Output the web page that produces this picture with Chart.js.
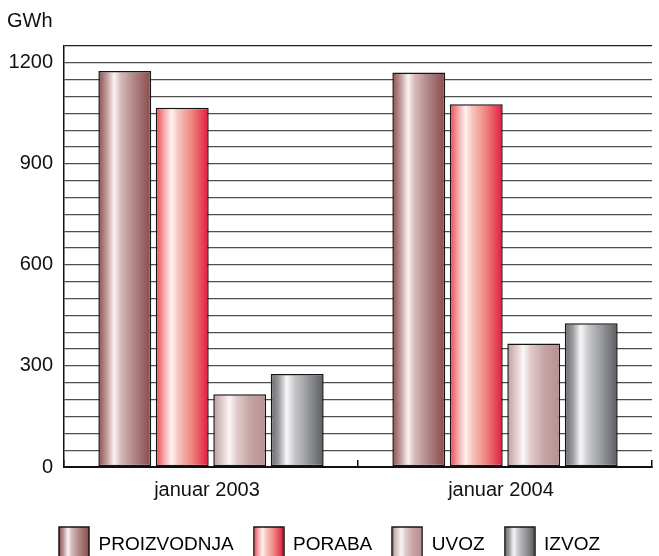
<!DOCTYPE html>
<html>
<head>
<meta charset="utf-8">
<title>Proizvodnja, poraba, uvoz in izvoz električne energije</title>
<script src="https://cdn.jsdelivr.net/npm/chart.js@4.4.1/dist/chart.umd.min.js"></script>
<style>
  html, body { margin: 0; padding: 0; background: #fff; }
  #wrap { position: relative; width: 659px; height: 556px; }
</style>
</head>
<body>
<div id="wrap"><canvas id="chart"></canvas></div>
<script>
// values in GWh
const months = ["januar 2003", "januar 2004"];
const proizvodnja = [1176, 1171];
const poraba = [1067, 1077];
const uvoz = [216, 367];
const izvoz = [276, 427];
const seriesNames = ["PROIZVODNJA", "PORABA", "UVOZ", "IZVOZ"];
const yLabels = [0, 300, 600, 900, 1200];

// horizontal "cylinder" shading for each series: [stop, colour]
const shading = [
  [[0, "#8a5050"], [0.16, "#c19c9c"], [0.3, "#fbf3f3"], [0.42, "#d6bcbc"], [0.65, "#b38a8a"], [1, "#894b4b"]],
  [[0, "#e64652"], [0.15, "#f4a4a4"], [0.3, "#fff3f0"], [0.42, "#f8c6bd"], [0.68, "#ee8580"], [1, "#df1b3d"]],
  [[0, "#c29e9e"], [0.15, "#dcc6c6"], [0.3, "#fcf7f7"], [0.45, "#dfcaca"], [0.7, "#c6a3a3"], [1, "#b88f8f"]],
  [[0, "#65676c"], [0.15, "#999b9f"], [0.3, "#f7f7f7"], [0.45, "#c6c7ca"], [0.7, "#96989c"], [1, "#5b5d62"]],
];
const outline = "#151515";

function makeGradient(ctx, left, width, stops) {
  const g = ctx.createLinearGradient(left, 0, left + width, 0);
  stops.forEach(([pos, col]) => g.addColorStop(pos, col));
  return g;
}

// little shaded squares used as legend markers
function makeSwatch(stops) {
  const c = document.createElement("canvas");
  c.width = 32;
  c.height = 40;
  const cx = c.getContext("2d");
  cx.fillStyle = makeGradient(cx, 1, 30, stops);
  cx.fillRect(1, 2, 30, 30);
  cx.strokeStyle = outline;
  cx.lineWidth = 1.5;
  cx.strokeRect(1, 2, 30, 30);
  return c;
}
const swatches = shading.map(makeSwatch);

// give every bar its own gradient once the bar geometry is known
const barShading = {
  id: "barShading",
  beforeDatasetsDraw(chart) {
    const ctx = chart.ctx;
    chart.data.datasets.forEach((ds, i) => {
      chart.getDatasetMeta(i).data.forEach(bar => {
        const left = bar.x - bar.width / 2;
        bar.options = Object.assign({}, bar.options, {
          backgroundColor: makeGradient(ctx, left, bar.width, shading[i]),
        });
      });
    });
  },
};

Chart.defaults.font.family = '"Liberation Sans", Arial, Helvetica, sans-serif';
Chart.defaults.color = "#111";

const series = [proizvodnja, poraba, uvoz, izvoz];
const chart = document.querySelector("#chart").getContext("2d");

new Chart(chart, {
  type: "bar",
  data: {
    labels: months,
    datasets: series.map((values, i) => ({
      label: seriesNames[i],
      data: values,
      backgroundColor: shading[i][2][1],
      borderColor: outline,
      borderWidth: 1.5,
      borderSkipped: false,
    })),
  },
  options: {
    responsive: true,
    maintainAspectRatio: false,
    animation: false,
    layout: { padding: { left: 7, right: 7, top: 0, bottom: -8.5 } },
    datasets: {
      bar: { categoryPercentage: 0.782, barPercentage: 0.92 },
    },
    scales: {
      x: {
        grid: {
          offset: true,
          drawOnChartArea: false,
          drawTicks: true,
          tickLength: -7,
          color: "#111",
          lineWidth: 1.5,
        },
        border: { color: "#111", width: 2 },
        ticks: { padding: 18, labelOffset: -4, font: { size: 20 } },
        afterFit: scale => { scale.height = 48.5; },
      },
      y: {
        min: 0,
        max: 1250,
        ticks: {
          stepSize: 50,
          autoSkip: false,
          padding: 11,
          font: { size: 20 },
          callback: v => (yLabels.includes(v) ? v : ""),
        },
        grid: {
          drawTicks: false,
          color: c => (c.tick && c.tick.value === 1250 ? "#1e1e1e" : "#4e4e4e"),
          lineWidth: 1.3,
        },
        border: { color: "#111", width: 1.5 },
        afterFit: scale => { scale.width = 57; },
      },
    },
    plugins: {
      colors: { enabled: false },
      title: {
        display: true,
        text: "GWh",
        align: "start",
        color: "#111",
        font: { size: 20, weight: "normal" },
        padding: { top: 9, bottom: 13 },
      },
      legend: {
        position: "bottom",
        labels: {
          usePointStyle: true,
          pointStyleWidth: 30,
          padding: 20,
          color: "#111",
          font: { size: 19 },
          generateLabels: c =>
            c.data.datasets.map((ds, i) => ({
              text: ds.label,
              pointStyle: swatches[i],
              datasetIndex: i,
              hidden: false,
              fillStyle: "transparent",
              strokeStyle: "transparent",
              lineWidth: 0,
            })),
        },
      },
      tooltip: { enabled: false },
    },
  },
  plugins: [barShading],
});
</script>
</body>
</html>
